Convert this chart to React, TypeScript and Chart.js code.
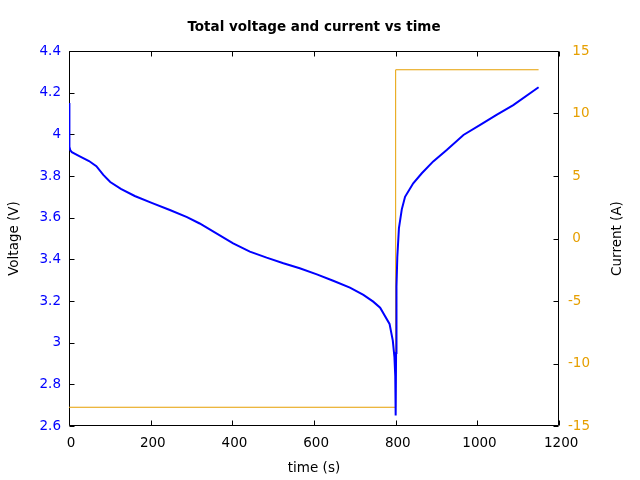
import React, { useEffect, useRef } from "react";
import { Chart, registerables } from "chart.js";

Chart.register(...registerables);

const voltTime = [0, 1, 3, 7, 24, 49, 67, 84, 101, 127, 161, 204, 247, 289, 320, 361, 402, 443, 484, 525, 565, 607, 647, 688, 721, 745, 762, 785, 793, 797, 799, 800, 801, 802, 804, 808, 815, 823, 843, 864, 892, 925, 966, 1007, 1047, 1088, 1150];
const voltage = [4.15, 3.94, 3.925, 3.914, 3.897, 3.872, 3.847, 3.805, 3.771, 3.738, 3.704, 3.67, 3.637, 3.603, 3.572, 3.525, 3.477, 3.437, 3.408, 3.381, 3.357, 3.328, 3.297, 3.264, 3.229, 3.197, 3.168, 3.09, 3.01, 2.93, 2.84, 2.65, 2.95, 3.27, 3.41, 3.55, 3.64, 3.70, 3.765, 3.813, 3.87, 3.925, 3.997, 4.045, 4.093, 4.14, 4.226];

const currentTime = [0, 800, 800, 1150];
const current = [-13.5, -13.5, 13.5, 13.5];

const BLUE = "#0000ff";
const ORANGE = "#e69f00";
const FONT = "'DejaVu Sans', sans-serif";
const FS = 13.5;
const rightTitle = "Current (A)";

const framePlugin = {
  id: "frame",
  beforeDatasetsDraw(chart: any) {
    const { ctx, chartArea, scales } = chart;
    const { left, right, top, bottom } = chartArea;
    const L = Math.round(left) + 0.5;
    const R = Math.round(right) - 0.5;
    const T = Math.round(top) + 0.5;
    const B = Math.round(bottom) - 0.5;
    const len = 5;
    ctx.save();
    ctx.strokeStyle = "#000";
    ctx.lineWidth = 1;
    ctx.beginPath();
    ctx.rect(L, T, R - L, B - T);
    ctx.stroke();
    ctx.beginPath();
    for (const t of scales.x.ticks) {
      const px = Math.round(scales.x.getPixelForValue(t.value)) + 0.5;
      ctx.moveTo(px, B);
      ctx.lineTo(px, B - len);
      ctx.moveTo(px, T);
      ctx.lineTo(px, T + len);
    }
    for (const t of scales.y.ticks) {
      const py = Math.round(scales.y.getPixelForValue(t.value)) + 0.5;
      ctx.moveTo(L, py);
      ctx.lineTo(L + len, py);
    }
    for (const t of scales.y2.ticks) {
      const py = Math.round(scales.y2.getPixelForValue(t.value)) + 0.5;
      ctx.moveTo(R, py);
      ctx.lineTo(R - len, py);
    }
    ctx.stroke();
    ctx.restore();
  },
  afterDraw(chart: any) {
    const { ctx, chartArea } = chart;
    ctx.save();
    ctx.fillStyle = "#000";
    ctx.font = `${FS}px ${FONT}`;
    ctx.textAlign = "center";
    ctx.textBaseline = "middle";
    ctx.translate(617, (chartArea.top + chartArea.bottom) / 2);
    ctx.rotate(-Math.PI / 2);
    ctx.fillText(rightTitle, 0, 0);
    ctx.restore();
  },
};

export default function App() {
  const ref = useRef<HTMLCanvasElement>(null);

  useEffect(() => {
    if (!ref.current) return;
    Chart.defaults.font.family = FONT;
    Chart.defaults.font.size = FS;
    Chart.defaults.color = "#000";

    const chart = new Chart(ref.current, {
      type: "line",
      data: {
        datasets: [
          {
            label: "Voltage",
            data: voltTime.map((t, i) => ({ x: t, y: voltage[i] })),
            borderColor: BLUE,
            backgroundColor: BLUE,
            borderWidth: 2,
            pointRadius: 0,
            tension: 0,
            yAxisID: "y",
          },
          {
            label: "Current",
            data: currentTime.map((t, i) => ({ x: t, y: current[i] })),
            borderColor: ORANGE,
            backgroundColor: ORANGE,
            borderWidth: 1,
            pointRadius: 0,
            tension: 0,
            yAxisID: "y2",
          },
        ],
      },
      options: {
        animation: false,
        responsive: false,
        maintainAspectRatio: false,
        layout: { padding: 0 },
        plugins: {
          legend: { display: false },
          tooltip: { enabled: false },
          title: {
            display: true,
            fullSize: false,
            text: "Total voltage and current vs time",
            color: "#000",
            font: { family: FONT, size: FS, weight: "bold" },
            padding: { top: 19, bottom: 15.8 },
          },
        },
        scales: {
          x: {
            type: "linear",
            position: "bottom",
            min: 0,
            max: 1200,
            grid: { display: false, drawTicks: false },
            border: { display: false },
            ticks: {
              stepSize: 200,
              padding: 9,
              color: "#000",
              maxRotation: 0,
              callback: (v: any) => " " + v,
            },
            title: {
              display: true,
              text: "time (s)",
              color: "#000",
              padding: { top: 0, bottom: 3 },
            },
            afterFit: (s: any) => {
              s.height = 54;
            },
          },
          y: {
            type: "linear",
            position: "left",
            min: 2.6,
            max: 4.4,
            grid: { display: false, drawTicks: false },
            border: { display: false },
            ticks: {
              stepSize: 0.2,
              padding: 8,
              color: BLUE,
              callback: (v: any) => String(Number(Number(v).toFixed(1))),
            },
            title: {
              display: true,
              text: "Voltage (V)",
              color: "#000",
              padding: { top: 6, bottom: 0 },
            },
            afterFit: (s: any) => {
              s.width = 69;
            },
          },
          y2: {
            type: "linear",
            position: "right",
            min: -15,
            max: 15,
            grid: { display: false, drawTicks: false },
            border: { display: false },
            ticks: {
              stepSize: 5,
              padding: 9,
              color: ORANGE,
              callback: (v: any) => (Number(v) >= 0 ? " " + v : String(v)),
            },
            title: { display: false },
            afterFit: (s: any) => {
              s.width = 81;
            },
          },
        },
      },
      plugins: [framePlugin],
    });

    return () => chart.destroy();
  }, []);

  return (
    <div style={{ position: "absolute", left: 0, top: 0, width: 640, height: 480, background: "#fff" }}>
      <canvas ref={ref} width={640} height={480} style={{ width: 640, height: 480, display: "block" }} />
    </div>
  );
}
